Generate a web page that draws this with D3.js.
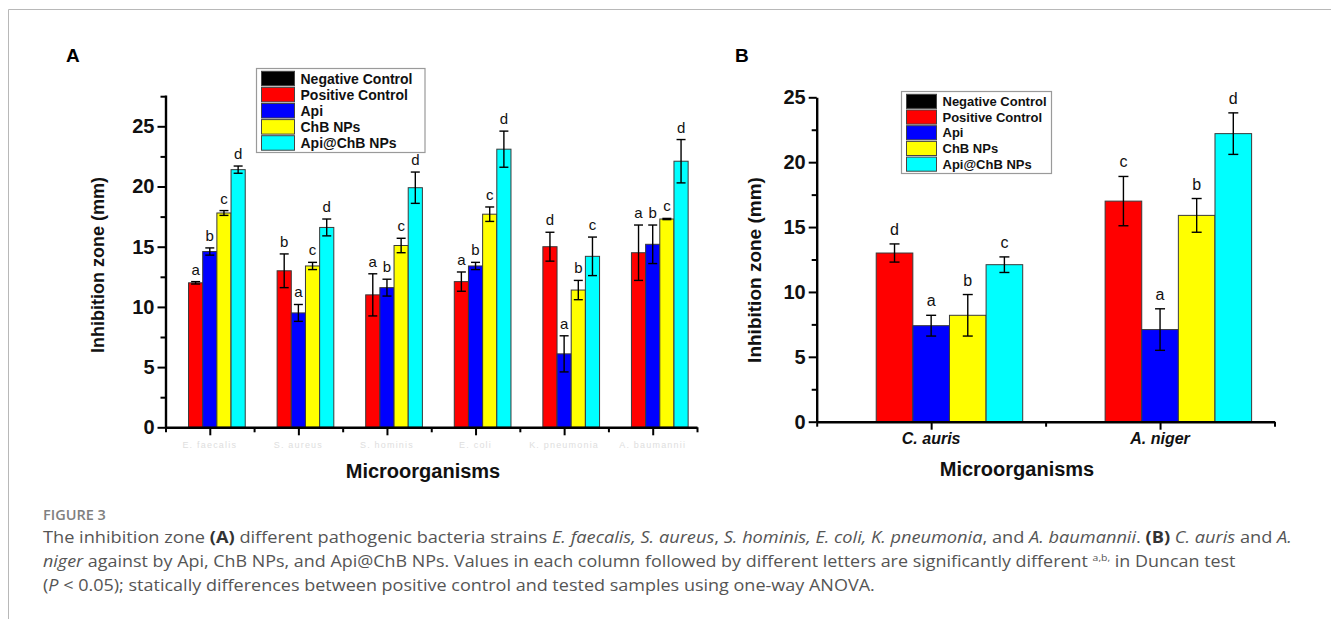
<!DOCTYPE html>
<html><head><meta charset="utf-8">
<script src="https://cdn.jsdelivr.net/npm/d3@7/dist/d3.min.js"></script>
<style>body{margin:0;background:#fff} svg{display:block}</style>
</head><body><svg id="c" width="1331" height="619"></svg>
<script>
// ---------- data ----------
const seriesNames = ["Negative Control", "Positive Control", "Api", "ChB NPs", "Api@ChB NPs"];

const bacteria = ["E. faecalis", "S. aureus", "S. hominis", "E. coli", "K. pneumonia", "A. baumannii"];
const negA    = [0, 0, 0, 0, 0, 0];
const posA    = [12.0, 13.0, 11.0, 12.1, 15.0, 14.5];
const apiA    = [14.6, 9.5, 11.6, 13.4, 6.1, 15.2];
const chbA    = [17.8, 13.4, 15.1, 17.7, 11.4, 17.3];
const apichbA = [21.4, 16.6, 19.9, 23.1, 14.2, 22.1];
const negAErr    = [0, 0, 0, 0, 0, 0];
const posAErr    = [0.1, 1.4, 1.75, 0.8, 1.2, 2.3];
const apiAErr    = [0.3, 0.7, 0.7, 0.3, 1.5, 1.6];
const chbAErr    = [0.2, 0.3, 0.6, 0.6, 0.8, 0.05];
const apichbAErr = [0.3, 0.7, 1.3, 1.5, 1.6, 1.8];
const negALet    = ["", "", "", "", "", ""];
const posALet    = ["a", "b", "a", "a", "d", "a"];
const apiALet    = ["b", "a", "b", "b", "a", "b"];
const chbALet    = ["c", "c", "c", "c", "b", "c"];
const apichbALet = ["d", "d", "d", "d", "c", "d"];
const yTicksA = [0, 5, 10, 15, 20, 25];

const fungi = ["C. auris", "A. niger"];
const negB    = [0, 0];
const posB    = [13.0, 17.0];
const apiB    = [7.4, 7.1];
const chbB    = [8.2, 15.9];
const apichbB = [12.1, 22.2];
const negBErr    = [0, 0];
const posBErr    = [0.7, 1.9];
const apiBErr    = [0.8, 1.6];
const chbBErr    = [1.6, 1.3];
const apichbBErr = [0.6, 1.6];
const negBLet    = ["", ""];
const posBLet    = ["d", "c"];
const apiBLet    = ["a", "a"];
const chbBLet    = ["b", "b"];
const apichbBLet = ["c", "d"];
const yTicksB = [0, 5, 10, 15, 20, 25];

// ---------- styles ----------
const COLORS = ["#000000", "#ff0000", "#0000ff", "#ffff00", "#00ffff"];
const FONT = "'Liberation Sans', Arial, sans-serif";
const svg = d3.select("#c");

// page frame
svg.append("line").attr("x1", 8.5).attr("x2", 1331).attr("y1", 9.5).attr("y2", 9.5)
  .attr("stroke", "#b8b8b8").attr("stroke-width", 1);
svg.append("line").attr("x1", 8.5).attr("x2", 8.5).attr("y1", 9.5).attr("y2", 619)
  .attr("stroke", "#b8b8b8").attr("stroke-width", 1);

function panel(cfg) {
  const g = svg.append("g");
  const y = d3.scaleLinear().domain([0, cfg.ymax]).range([cfg.yBottom, cfg.yTop]);
  const xl = d3.scaleLinear().domain([0.5, cfg.cats.length + 0.5]).range([cfg.x0, cfg.x1]);
  const xb = d3.scaleBand().domain(cfg.cats).range([cfg.x0, cfg.x1]).paddingInner(0.2).paddingOuter(0.1);
  const xs = d3.scaleBand().domain(seriesNames).range([0, xb.bandwidth()]);

  // bars
  cfg.vals.forEach((arr, s) => {
    arr.forEach((v, i) => {
      if (v <= 0) return;
      g.append("rect")
        .attr("x", xb(cfg.cats[i]) + xs(seriesNames[s]))
        .attr("y", y(v))
        .attr("width", xs.bandwidth())
        .attr("height", y(0) - y(v))
        .attr("fill", COLORS[s])
        .attr("stroke", "#3a3a3a").attr("stroke-width", 1);
    });
  });
  // error bars + letters
  cfg.vals.forEach((arr, s) => {
    arr.forEach((v, i) => {
      if (v <= 0) return;
      const e = cfg.errs[s][i];
      const cx = xb(cfg.cats[i]) + xs(seriesNames[s]) + xs.bandwidth() / 2;
      const hw = cfg.capW / 2;
      g.append("line").attr("x1", cx).attr("x2", cx).attr("y1", y(v - e)).attr("y2", y(v + e))
        .attr("stroke", "#000").attr("stroke-width", 1.4);
      [v - e, v + e].forEach(t => {
        g.append("line").attr("x1", cx - hw).attr("x2", cx + hw).attr("y1", y(t)).attr("y2", y(t))
          .attr("stroke", "#000").attr("stroke-width", 1.4);
      });
      const L = cfg.lets[s][i];
      if (L) {
        g.append("text").attr("x", cx).attr("y", y(v + e) - cfg.letGap)
          .attr("text-anchor", "middle").attr("font-family", FONT)
          .attr("font-size", cfg.letSize).attr("fill", "#111").text(L);
      }
    });
  });

  // y axis
  const minorY = d3.range(2.5, cfg.ymax, 5);
  const ya = g.append("g").attr("transform", `translate(${cfg.x0},0)`)
    .call(d3.axisLeft(y).tickValues(cfg.yTicks).tickSize(8).tickSizeOuter(0).tickPadding(3).tickFormat(d3.format("d")));
  g.append("g").attr("transform", `translate(${cfg.x0},0)`)
    .call(d3.axisLeft(y).tickValues(minorY).tickSize(5).tickSizeOuter(0).tickFormat(""))
    .select(".domain").remove();
  ya.select(".domain").attr("stroke-width", 2.4);
  ya.selectAll(".tick text").attr("font-family", FONT).attr("font-weight", "bold")
    .attr("font-size", cfg.tickSize).attr("fill", "#111");
  g.selectAll(".tick line").attr("stroke-width", 2);

  // x axis
  const xa = g.append("g").attr("transform", `translate(0,${cfg.yBottom})`)
    .call(d3.axisBottom(xl).tickValues(d3.range(1, cfg.cats.length + 1)).tickSize(8).tickSizeOuter(0).tickFormat(""));
  xa.select(".domain").attr("stroke-width", 2.4);
  xa.selectAll(".tick line").attr("stroke-width", 2);
  const xm = g.append("g").attr("transform", `translate(0,${cfg.yBottom})`)
    .call(d3.axisBottom(xl).tickValues(d3.range(0.5, cfg.cats.length + 1, 1)).tickSize(5).tickSizeOuter(0).tickFormat(""));
  xm.select(".domain").remove();
  xm.selectAll(".tick line").attr("stroke-width", 2);

  // category labels
  cfg.cats.forEach((c, i) => {
    const t = g.append("text").attr("x", xl(i + 1)).attr("y", cfg.catY)
      .attr("text-anchor", "middle").attr("font-family", FONT).text(c);
    if (cfg.faintCats) {
      t.attr("font-size", 9).attr("fill", "#dedede").attr("letter-spacing", 1.2);
    } else {
      t.attr("font-size", 16).attr("font-weight", "bold").attr("font-style", "italic").attr("fill", "#111");
    }
  });

  // axis titles
  g.append("text").attr("transform", `translate(${cfg.yTitleX},${cfg.yTitleY}) rotate(-90)`)
    .attr("text-anchor", "middle").attr("dominant-baseline", "central")
    .attr("font-family", FONT).attr("font-weight", "bold").attr("font-size", cfg.yTitleSize)
    .attr("fill", "#111").text("Inhibition zone (mm)");
  g.append("text").attr("x", cfg.xTitleX).attr("y", cfg.xTitleY).attr("text-anchor", "middle")
    .attr("font-family", FONT).attr("font-weight", "bold").attr("font-size", 20)
    .attr("fill", "#111").text("Microorganisms");

  // panel letter
  g.append("text").attr("x", cfg.labelX).attr("y", 62).attr("font-family", FONT)
    .attr("font-weight", "bold").attr("font-size", 19).attr("fill", "#000").text(cfg.label);

  // legend
  const lg = cfg.legend;
  g.append("rect").attr("x", lg.x).attr("y", lg.y).attr("width", lg.w).attr("height", lg.h)
    .attr("fill", "#fff").attr("stroke", "#9a9a9a").attr("stroke-width", 1.2);
  const ry = d3.scaleBand().domain(seriesNames).range([lg.y + 2, lg.y + lg.h - 1.5]);
  seriesNames.forEach((n, s) => {
    g.append("rect").attr("x", lg.x + 5).attr("y", ry(n) + 0.8).attr("width", lg.sw)
      .attr("height", ry.bandwidth() - 1.6).attr("fill", COLORS[s])
      .attr("stroke", "#444").attr("stroke-width", 1);
    g.append("text").attr("x", lg.x + 5 + lg.sw + 6).attr("y", ry(n) + ry.bandwidth() / 2)
      .attr("dominant-baseline", "central").attr("font-family", FONT).attr("font-weight", "bold")
      .attr("font-size", lg.fs).attr("fill", "#111").text(n);
  });
}

panel({
  label: "A", labelX: 66,
  cats: bacteria,
  vals: [negA, posA, apiA, chbA, apichbA],
  errs: [negAErr, posAErr, apiAErr, chbAErr, apichbAErr],
  lets: [negALet, posALet, apiALet, chbALet, apichbALet],
  ymax: 27.6, yBottom: 427.3, yTop: 95, yTicks: yTicksA,
  x0: 165.5, x1: 697,
  capW: 9, letGap: 7, letSize: 15, tickSize: 20,
  catY: 448, faintCats: true,
  yTitleX: 98, yTitleY: 265, yTitleSize: 18,
  xTitleX: 423, xTitleY: 478,
  legend: {x: 256.5, y: 68.5, w: 168.5, h: 84, sw: 33, fs: 14}
});

panel({
  label: "B", labelX: 735,
  cats: fungi,
  vals: [negB, posB, apiB, chbB, apichbB],
  errs: [negBErr, posBErr, apiBErr, chbBErr, apichbBErr],
  lets: [negBLet, posBLet, apiBLet, chbBLet, apichbBLet],
  ymax: 25, yBottom: 421.7, yTop: 97.3, yTicks: yTicksB,
  x0: 816.7, x1: 1274.5,
  capW: 10, letGap: 9, letSize: 16, tickSize: 20,
  catY: 444, faintCats: false,
  yTitleX: 754, yTitleY: 270, yTitleSize: 19,
  xTitleX: 1017, xTitleY: 476,
  legend: {x: 901.5, y: 91.5, w: 150, h: 82, sw: 30, fs: 13}
});

// ---------- caption ----------
const CAP = "'Open Sans', 'Noto Sans', sans-serif";
const capX = 43;
svg.append("text").attr("x", capX).attr("y", 520).attr("font-family", CAP)
  .attr("font-size", 14.5).attr("fill", "#808080").attr("font-weight", 600).text("FIGURE 3");

function capLine(yb, parts, targetRight) {
  const t = svg.append("text").attr("x", capX).attr("y", yb).attr("font-family", CAP)
    .attr("font-size", 15.5).attr("fill", "#555");
  parts.forEach(p => {
    const ts = t.append("tspan").text(p[0]);
    if (p[1] === "b") ts.attr("font-weight", "bold").attr("fill", "#333");
    if (p[1] === "i") ts.attr("font-style", "italic");
    if (p[1] === "sup") ts.attr("font-size", 9).attr("baseline-shift", "6");
  });
  const w = t.node().getComputedTextLength();
  const k = (targetRight - capX) / w;
  t.attr("transform", `translate(${capX},0) scale(${k},1) translate(${-capX},0)`);
}
capLine(543, [
  ["The inhibition zone "], ["(A)", "b"], [" different pathogenic bacteria strains "],
  ["E. faecalis, S. aureus", "i"], [", "], ["S. hominis, E. coli, K. pneumonia", "i"],
  [", and "], ["A. baumannii", "i"], [". "], ["(B)", "b"], [" "], ["C. auris", "i"], [" and "], ["A.", "i"]
], 1293);
capLine(567, [
  ["niger", "i"], [" against by Api, ChB NPs, and Api@ChB NPs. Values in each column followed by different letters are significantly different "],
  ["a,b,", "sup"], [" in Duncan test"]
], 1236);
capLine(591, [
  ["("], ["P", "i"], [" < 0.05); statically differences between positive control and tested samples using one-way ANOVA."]
], 875);
</script>
</body></html>
